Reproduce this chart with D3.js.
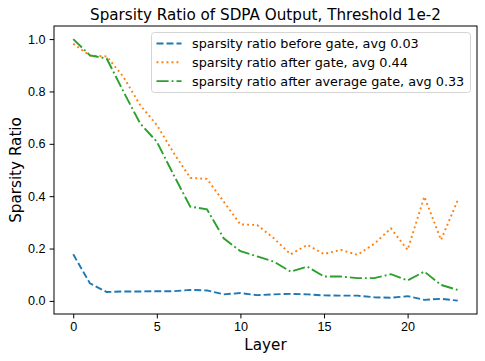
<!DOCTYPE html>
<html>
<head>
<meta charset="utf-8">
<title>Sparsity Ratio</title>
<style>
	body { margin: 0; background: #fff; }
	svg { font-family: "DejaVu Sans", sans-serif; }
	.tick text { font-size: 12.6px; fill: #000; }
	.tick line { stroke: #000; }
</style>
</head>
<body>
<script src="https://cdn.jsdelivr.net/npm/d3@7"></script>
<script>
var width = 485,
	height = 361,
	margin = {left: 54, right: 8, top: 26, bottom: 47};

// values
var layers = d3.range(0, 24);
var beforeGate = [0.178, 0.067, 0.034, 0.036, 0.036, 0.037, 0.037, 0.042, 0.040, 0.025, 0.030, 0.022,
	0.025, 0.027, 0.025, 0.021, 0.020, 0.020, 0.014, 0.012, 0.018, 0.004, 0.008, 0.001];
var afterGate = [0.982, 0.937, 0.934, 0.856, 0.748, 0.672, 0.566, 0.470, 0.466, 0.379, 0.292, 0.290,
	0.239, 0.178, 0.214, 0.179, 0.195, 0.176, 0.218, 0.277, 0.195, 0.398, 0.233, 0.385];
var avgGate = [1.0, 0.938, 0.926, 0.80, 0.678, 0.608, 0.482, 0.360, 0.350, 0.239, 0.190, 0.170,
	0.150, 0.112, 0.131, 0.093, 0.093, 0.087, 0.087, 0.102, 0.078, 0.112, 0.061, 0.042];
var seriesNames = ["sparsity ratio before gate, avg 0.03",
	"sparsity ratio after gate, avg 0.44",
	"sparsity ratio after average gate, avg 0.33"];
var xTicks = [0, 5, 10, 15, 20];
var yTicks = [0.0, 0.2, 0.4, 0.6, 0.8, 1.0];

var series = [
	{name: seriesNames[0], values: beforeGate, color: "#1f77b4", dash: "7,3"},
	{name: seriesNames[1], values: afterGate, color: "#ff7f0e", dash: "1.9,3.1"},
	{name: seriesNames[2], values: avgGate, color: "#2ca02c", dash: "12.1,3,1.9,3"}
];

var svg = d3.select("body").append("svg")
	.attr("width", width)
	.attr("height", height);

var x = d3.scaleLinear()
	.domain([-1.15, 24.15])
	.range([margin.left, width - margin.right]);

var y = d3.scaleLinear()
	.domain([-0.05, 1.05])
	.range([height - margin.bottom, margin.top]);

var line = d3.line()
	.x(function(d, i) { return x(layers[i]); })
	.y(function(d) { return y(d); });

var plot = svg.append("g");

plot.selectAll("path.series")
	.data(series)
	.enter().append("path")
	.attr("class", "series")
	.attr("fill", "none")
	.attr("stroke", function(d) { return d.color; })
	.attr("stroke-width", 1.9)
	.attr("stroke-dasharray", function(d) { return d.dash; })
	.attr("d", function(d) { return line(d.values); });

// axes
svg.append("g")
	.attr("transform", "translate(0," + (height - margin.bottom) + ")")
	.call(d3.axisBottom(x).tickValues(xTicks).tickSize(4.4).tickPadding(4).tickFormat(d3.format("d")));

svg.append("g")
	.attr("transform", "translate(" + margin.left + ",0)")
	.call(d3.axisLeft(y).tickValues(yTicks).tickSize(4.4).tickPadding(4).tickFormat(d3.format(".1f")));

svg.selectAll(".domain").remove();
svg.selectAll(".tick line").attr("stroke-width", 1);

svg.append("rect")
	.attr("x", margin.left)
	.attr("y", margin.top)
	.attr("width", width - margin.left - margin.right)
	.attr("height", height - margin.top - margin.bottom)
	.attr("fill", "none")
	.attr("stroke", "#000")
	.attr("stroke-width", 1);

// labels
svg.append("text")
	.attr("x", (margin.left + width - margin.right) / 2)
	.attr("y", 19.5)
	.attr("text-anchor", "middle")
	.attr("font-size", "15.2px")
	.text("Sparsity Ratio of SDPA Output, Threshold 1e-2");

svg.append("text")
	.attr("x", (margin.left + width - margin.right) / 2)
	.attr("y", 350)
	.attr("text-anchor", "middle")
	.attr("font-size", "15.2px")
	.text("Layer");

svg.append("text")
	.attr("transform", "translate(20.5," + ((margin.top + height - margin.bottom) / 2) + ")rotate(-90)")
	.attr("text-anchor", "middle")
	.attr("font-size", "15.2px")
	.text("Sparsity Ratio");

// legend
var legend = svg.append("g")
	.attr("transform", "translate(151.5,32.5)");

legend.append("rect")
	.attr("width", 319)
	.attr("height", 60)
	.attr("rx", 3)
	.attr("fill", "#fff")
	.attr("fill-opacity", 0.8)
	.attr("stroke", "#d5d5d5")
	.attr("stroke-width", 1);

var items = legend.selectAll("g.item")
	.data(series)
	.enter().append("g")
	.attr("class", "item")
	.attr("transform", function(d, i) { return "translate(0," + (11 + i * 18.8) + ")"; });

items.append("line")
	.attr("x1", 5).attr("x2", 30)
	.attr("stroke", function(d) { return d.color; })
	.attr("stroke-width", 1.9)
	.attr("stroke-dasharray", function(d) { return d.dash; });

items.append("text")
	.attr("x", 40.5)
	.attr("dy", "0.35em")
	.attr("font-size", "12.8px")
	.text(function(d) { return d.name; });
</script>
</body>
</html>
